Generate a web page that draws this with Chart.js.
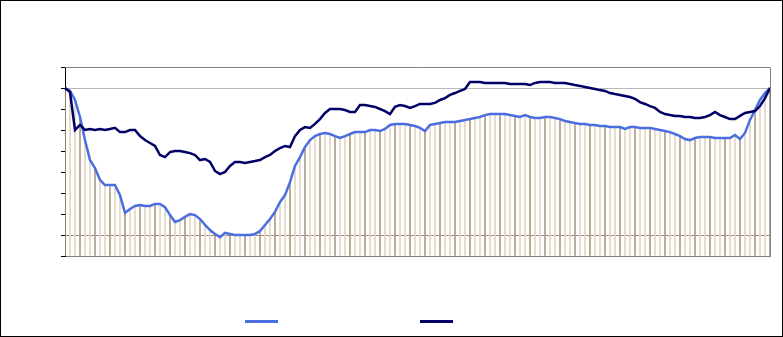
<html>
<head>
<meta charset="utf-8">
<script src="https://cdn.jsdelivr.net/npm/chart.js@4.4.1/dist/chart.umd.min.js"></script>
<style>
  body { margin: 0; background: #fff; }
  #wrap { position: relative; width: 783px; height: 337px; box-sizing: border-box; border: 1px solid #000; }
  #chart { position: absolute; left: 0; top: 0; }
  .key { position: absolute; top: 319px; width: 33px; height: 3px; }
</style>
</head>
<body>
<div id="wrap">
  <canvas id="chart" width="781" height="335"></canvas>
  <div class="key" id="key1" style="left:244px"></div>
  <div class="key" id="key2" style="left:419px"></div>
</div>
<script>
// two index series (one point every ~5px)
var lightSeries = [80.0,78.6,74.3,66.2,55.2,45.7,41.9,36.2,33.8,33.8,33.8,29.0,20.5,22.4,23.8,24.3,23.8,23.8,24.8,24.8,
  23.3,19.5,16.2,17.1,18.6,20.0,19.5,17.6,14.8,12.4,10.5,9.0,11.0,10.5,10.0,10.0,10.0,10.0,10.5,11.9,
  14.8,17.6,21.0,25.7,29.0,35.2,42.9,47.1,51.9,55.2,57.1,58.1,58.6,58.1,57.1,56.2,57.1,58.1,59.0,59.0,
  59.0,60.0,60.0,59.5,60.5,62.4,62.9,62.9,62.9,62.4,61.9,61.0,59.5,62.4,62.9,63.3,63.8,63.8,63.8,64.3,
  64.8,65.2,65.7,66.2,67.1,67.6,67.6,67.6,67.6,67.1,66.7,66.2,67.1,66.2,65.7,65.7,66.2,66.2,65.7,65.2,
  64.3,63.8,63.3,62.9,62.9,62.4,62.4,61.9,61.9,61.4,61.4,61.4,60.5,61.4,61.4,61.0,61.0,61.0,60.5,60.0,
  59.5,59.0,58.1,57.1,55.7,55.2,56.2,56.7,56.7,56.7,56.2,56.2,56.2,56.2,57.6,55.7,58.6,64.8,69.5,74.3,
  77.6,80.0];
var darkSeries = [80.0,78.1,60.0,62.4,60.0,60.5,60.0,60.5,60.0,60.5,61.0,59.0,59.0,60.0,60.0,57.1,55.2,53.8,52.4,48.1,
  47.1,49.5,50.0,50.0,49.5,49.0,48.1,45.7,46.2,44.8,40.5,39.0,40.0,42.9,44.8,44.8,44.3,44.8,45.2,45.7,
  47.1,48.1,50.0,51.4,52.4,51.9,57.1,60.0,61.4,61.0,62.9,65.2,68.1,70.0,70.0,70.0,69.5,68.6,68.6,71.9,
  71.9,71.4,71.0,70.0,69.0,67.6,71.0,71.9,71.4,70.5,71.4,72.4,72.4,72.4,72.9,74.3,75.2,76.7,77.6,78.6,
  79.5,82.9,82.9,82.9,82.4,82.4,82.4,82.4,82.4,81.9,81.9,81.9,81.9,81.4,82.4,82.9,82.9,82.9,82.4,82.4,
  82.4,81.9,81.4,81.0,80.5,80.0,79.5,79.0,78.6,77.6,77.1,76.7,76.2,75.7,74.8,73.3,72.4,71.4,70.5,68.6,
  67.6,67.1,66.7,66.7,66.2,66.2,65.7,65.7,66.2,67.1,68.6,67.1,66.2,65.2,65.2,66.7,68.1,68.6,69.0,71.4,
  75.2,80.0];
var yTicks = [0, 90, 10]; // min, max, step
var labels = lightSeries.map(function (v, i) { return i; });

var lightColor = '#4a6ee0';
var darkColor = '#000066';
document.getElementById('key1').style.background = lightColor;
document.getElementById('key2').style.background = darkColor;

var frame = {
  id: 'frame',
  afterDatasetsDraw: function (chart) {
    var a = chart.chartArea, c = chart.ctx;
    c.save();
    c.strokeStyle = '#808080';
    c.lineWidth = 1;
    c.beginPath();
    c.moveTo(a.left, a.top + 0.5);
    c.lineTo(a.right + 0.5, a.top + 0.5);
    c.lineTo(a.right + 0.5, a.bottom);
    c.stroke();
    c.restore();
  }
};

new Chart(document.getElementById('chart'), {
  type: 'line',
  data: {
    labels: labels,
    datasets: [
      { label: 'dark', data: darkSeries, borderColor: darkColor, borderWidth: 2.5, pointRadius: 0, tension: 0, order: 1 },
      { label: 'light', data: lightSeries, borderColor: lightColor, borderWidth: 2.5, pointRadius: 0, tension: 0, order: 2 },
      { type: 'bar', label: 'drops', data: lightSeries, barThickness: 1, order: 3,
        backgroundColor: function (ctx) { return ctx.dataIndex % 3 === 0 ? '#b09c82' : '#e2d6c4'; } }
    ]
  },
  options: {
    responsive: false,
    animation: false,
    layout: { padding: { left: 60, top: 66, right: 12, bottom: 80 } },
    plugins: { legend: { display: false }, tooltip: { enabled: false } },
    scales: {
      x: {
        offset: false,
        grid: { display: false },
        ticks: { display: false },
        border: { color: '#808080' },
        afterFit: function (s) { s.height = 0; }
      },
      y: {
        min: yTicks[0], max: yTicks[1],
        ticks: { display: false, stepSize: yTicks[2] },
        grid: {
          color: function (ctx) {
            if (ctx.tick.value === 10) return '#9a8a74';
            if (ctx.tick.value === 80) return '#b8b8b8';
            return 'rgba(0,0,0,0)';
          },
          tickColor: '#000', tickLength: 4
        },
        border: { color: '#000' },
        afterFit: function (s) { s.width = 4; }
      }
    }
  },
  plugins: [frame]
});
</script>
</body>
</html>
